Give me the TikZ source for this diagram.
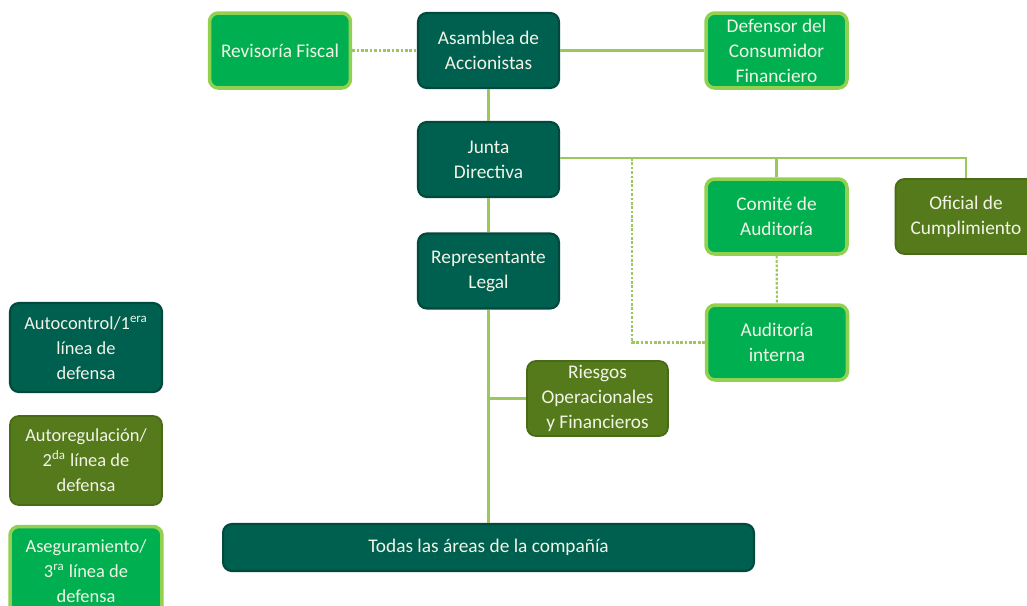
\documentclass[tikz,border=0pt]{standalone}
\usepackage{fontspec}
\setmainfont{Carlito}
\usetikzlibrary{positioning}
\definecolor{darkgreen}{HTML}{006050}
\definecolor{darkborder}{HTML}{00493C}
\definecolor{olivegreen}{HTML}{557A1C}
\definecolor{oliveborder}{HTML}{4A6B16}
\definecolor{brightgreen}{HTML}{00AF50}
\definecolor{lightborder}{HTML}{92D050}
\definecolor{linkgreen}{HTML}{9BC85A}
\definecolor{boxtext}{HTML}{F2F4E6}
\tikzset{
	box/.style={rounded corners=5pt, align=center, text=boxtext,
		font=\fontsize{11}{14.2}\selectfont, inner sep=1pt,
		minimum width=2.82cm, minimum height=1.5cm},
	link/.style={draw=linkgreen, line width=1.2pt},
	dotlink/.style={link, dash pattern=on 1.5pt off 1pt}
}

\begin{document}
\begin{tikzpicture}[x=0.02cm, y=-0.02cm,
	dark/.style={box, fill=darkgreen, draw=darkborder, line width=1.2pt},
	olive/.style={box, fill=olivegreen, draw=oliveborder, line width=1pt},
	bright/.style={box, fill=brightgreen, draw=lightborder, line width=2pt},
	legend/.style={font=\fontsize{10.5}{14.2}\selectfont, minimum width=3.04cm, minimum height=1.78cm}]
	\useasboundingbox (0,0) rectangle (1027,605);
	% top row
	\node[bright] (rev) at (280,50.5) {Revisoría Fiscal};
	\node[dark] (asam) at (488.5,50.5) {Asamblea de\\Accionistas};
	\node[bright] (def) at (776.5,50.5) {Defensor del\\Consumidor\\Financiero};
	% main column
	\node[dark] (junta) at (488.5,159.5) {Junta\\Directiva};
	\node[dark] (rep) at (488.5,271) {Representante\\Legal};
	\node[olive] (rie) at (597.5,398.5) {Riesgos\\Operacionales\\y Financieros};
	\node[dark, minimum width=10.62cm, minimum height=0.94cm] (todas) at (488.5,547.5) {Todas las áreas de la compañía};
	% control branch
	\node[bright] (com) at (776.5,216.5) {Comité de\\Auditoría};
	\node[olive] (ofi) at (966,216.5) {Oficial de\\Cumplimiento};
	\node[bright] (aud) at (777,342.5) {Auditoría\\interna};
	\coordinate (tap) at (632,158);
	% legend
	\node[dark, legend] (l1) at (86,347.5) {Autocontrol/1\textsuperscript{era}\\línea de\\defensa};
	\node[olive, legend] (l2) at (86,460.5) {Autoregulación/\\2\textsuperscript{da} línea de\\defensa};
	\node[bright, legend] (l3) at (86,571) {Aseguramiento/\\3\textsuperscript{ra} línea de\\defensa};
	% connectors
	\draw[dotlink] (rev) -- (asam);
	\draw[link] (asam) -- (def);
	\draw[link] (asam) -- (junta);
	\draw[link] (junta) -- (rep);
	\draw[link] (rep) -- (todas);
	\draw[link] (junta.east |- tap) -| (ofi.north);
	\draw[link] (tap -| com) -- (com);
	\draw[dotlink] (tap) |- (aud);
	\draw[dotlink] (com) -- (aud);
	\draw[link] (rep |- rie) -- (rie);
\end{tikzpicture}
\end{document}
